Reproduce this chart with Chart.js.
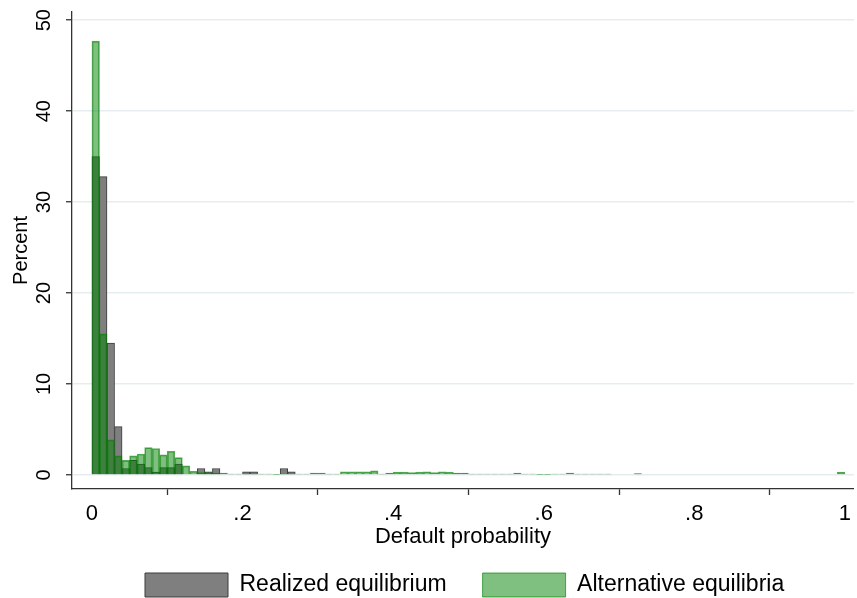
<!DOCTYPE html>
<html>
<head>
<meta charset="utf-8">
<script src="https://cdn.jsdelivr.net/npm/chart.js@4.4.1/dist/chart.umd.min.js"></script>
<style>
    html, body { margin: 0; padding: 0; background: #fff; }
</style>
</head>
<body>
<canvas id="histChart" width="857" height="598"></canvas>
<script>
// Histogram of default probabilities, bins are 0.01 wide starting at 0
// values are percent of observations in each bin (read off the figure)

const binWidth = 0.01;

const realized = [
    35.0, 32.8, 14.5, 5.3, 0.7, 1.6, 1.2, 0.8, 0.3, 0.8,
    0.8, 1.2, 0, 0, 0.7, 0.35, 0.7, 0, 0, 0,
    0.35, 0.35, 0, 0, 0, 0.7, 0.35, 0, 0, 0,
    0, 0, 0, 0, 0, 0, 0, 0, 0, 0,
    0, 0, 0, 0, 0, 0, 0, 0, 0, 0,
    0, 0, 0, 0, 0, 0, 0, 0, 0, 0,
    0, 0, 0, 0, 0, 0, 0, 0, 0, 0,
    0, 0, 0, 0, 0, 0, 0, 0, 0, 0,
    0, 0, 0, 0, 0, 0, 0, 0, 0, 0,
    0, 0, 0, 0, 0, 0, 0, 0, 0, 0
];

const alternative = [
    47.7, 15.5, 3.85, 2.1, 1.6, 2.1, 2.3, 3.0, 2.9, 2.2,
    2.6, 1.9, 1.0, 0.4, 0.25, 0.25, 0.2, 0.2, 0.1, 0.1,
    0.1, 0.1, 0.1, 0.1, 0.05, 0.1, 0.1, 0.1, 0.1, 0.2,
    0.2, 0.1, 0.1, 0.35, 0.35, 0.35, 0.35, 0.45, 0.1, 0.2,
    0.3, 0.3, 0.25, 0.3, 0.35, 0.25, 0.35, 0.3, 0.2, 0.2,
    0.1, 0.1, 0.1, 0.1, 0.1, 0.1, 0.2, 0.1, 0.1, 0.05,
    0.05, 0.1, 0.1, 0.2, 0.1, 0.1, 0.1, 0.1, 0.1, 0,
    0, 0, 0.15, 0, 0, 0, 0, 0, 0, 0,
    0, 0, 0, 0, 0, 0, 0, 0, 0, 0,
    0, 0, 0, 0, 0, 0, 0, 0, 0, 0.3
];

const seriesNames = ['Realized equilibrium', 'Alternative equilibria'];
const xTicks = [0, 0.2, 0.4, 0.6, 0.8, 1];
const xTickLabels = ['0', '.2', '.4', '.6', '.8', '1'];
const yTicks = [0, 10, 20, 30, 40, 50];

const FONT = "'Liberation Sans', Arial, Helvetica, sans-serif";
const AXIS_COLOR = '#333333';

// bar sits on the middle of its bin
function toPoints(values) {
    return values.map((v, i) => ({ x: (i + 0.5) * binWidth, y: v }));
}

// Stata style: y tick labels are turned on their side
const rotatedYTicks = {
    id: 'rotatedYTicks',
    afterDraw(chart) {
        const yScale = chart.scales.y;
        const ctx = chart.ctx;
        ctx.save();
        ctx.font = '20px ' + FONT;
        ctx.fillStyle = '#000';
        ctx.textAlign = 'center';
        ctx.textBaseline = 'middle';
        yTicks.forEach(v => {
            ctx.save();
            ctx.translate(yScale.right - 28, yScale.getPixelForValue(v));
            ctx.rotate(-Math.PI / 2);
            ctx.fillText(String(v), 0, 0);
            ctx.restore();
        });
        ctx.restore();
    }
};

// move the legend row under the plot region, like the original
const legendPlacement = {
    id: 'legendPlacement',
    beforeDraw(chart) {
        const lg = chart.legend;
        if (!lg || !lg.lineWidths) return;
        const pad = lg.options.labels.padding;
        const firstBoxX = 145;
        lg.left = 0;
        lg.right = 2 * firstBoxX + lg.lineWidths[0] - pad;
        lg.top = chart.height - 25 - pad;
        lg.bottom = lg.top + lg.height;
    }
};

Chart.defaults.font.family = FONT;
Chart.defaults.color = '#000';

const ctx = document.getElementById('histChart').getContext('2d');
const histChart = new Chart(ctx, {
    type: 'bar',
    data: {
        datasets: [
            {
                label: seriesNames[0],
                data: toPoints(realized),
                backgroundColor: '#7f7f7f',
                borderColor: '#3c3c3c',
                borderWidth: 1,
                grouped: false,
                order: 1,
                barPercentage: 1,
                categoryPercentage: 1
            },
            {
                label: seriesNames[1],
                data: toPoints(alternative),
                backgroundColor: 'rgba(0, 128, 0, 0.5)',
                borderColor: 'rgba(0, 128, 0, 0.65)',
                borderWidth: 1,
                grouped: false,
                order: 0,
                barPercentage: 1,
                categoryPercentage: 1
            }
        ]
    },
    options: {
        responsive: false,
        animation: false,
        devicePixelRatio: 1,
        layout: { padding: { top: 12, right: 0, bottom: 0, left: 0 } },
        scales: {
            x: {
                type: 'linear',
                min: -0.0265,
                max: 1.012,
                offset: false,
                afterBuildTicks: (s) => { s.ticks = xTicks.map(v => ({ value: v })); },
                ticks: {
                    autoSkip: false,
                    maxRotation: 0,
                    padding: 6,
                    font: { size: 22 },
                    color: '#000',
                    callback: (value, index) => xTickLabels[index]
                },
                grid: {
                    drawOnChartArea: false,
                    drawTicks: true,
                    tickLength: 6,
                    tickColor: AXIS_COLOR,
                    tickWidth: 1.3
                },
                border: { display: true, color: AXIS_COLOR, width: 1.3 },
                title: {
                    display: true,
                    text: 'Default probability',
                    font: { size: 22 },
                    color: '#000',
                    padding: { top: -9.6, bottom: -22.2 }
                }
            },
            y: {
                type: 'linear',
                min: -1.55,
                max: 50.9,
                afterBuildTicks: (s) => { s.ticks = yTicks.map(v => ({ value: v })); },
                afterFit: (s) => { s.width = 72; },
                ticks: { display: false },
                grid: {
                    color: '#e6edf0',
                    lineWidth: 1.5,
                    drawTicks: true,
                    tickLength: 6,
                    tickColor: AXIS_COLOR,
                    tickWidth: 1.3
                },
                border: { display: true, color: AXIS_COLOR, width: 1.3 },
                title: {
                    display: true,
                    text: 'Percent',
                    font: { size: 20 },
                    color: '#000',
                    padding: { top: 9, bottom: 0 }
                }
            }
        },
        plugins: {
            legend: {
                position: 'bottom',
                labels: {
                    boxWidth: 83,
                    boxHeight: 24,
                    padding: 36,
                    font: { size: 23 },
                    color: '#000',
                    sort: (a, b) => a.datasetIndex - b.datasetIndex
                }
            },
            tooltip: { enabled: false }
        }
    },
    plugins: [rotatedYTicks, legendPlacement]
});
</script>
</body>
</html>
